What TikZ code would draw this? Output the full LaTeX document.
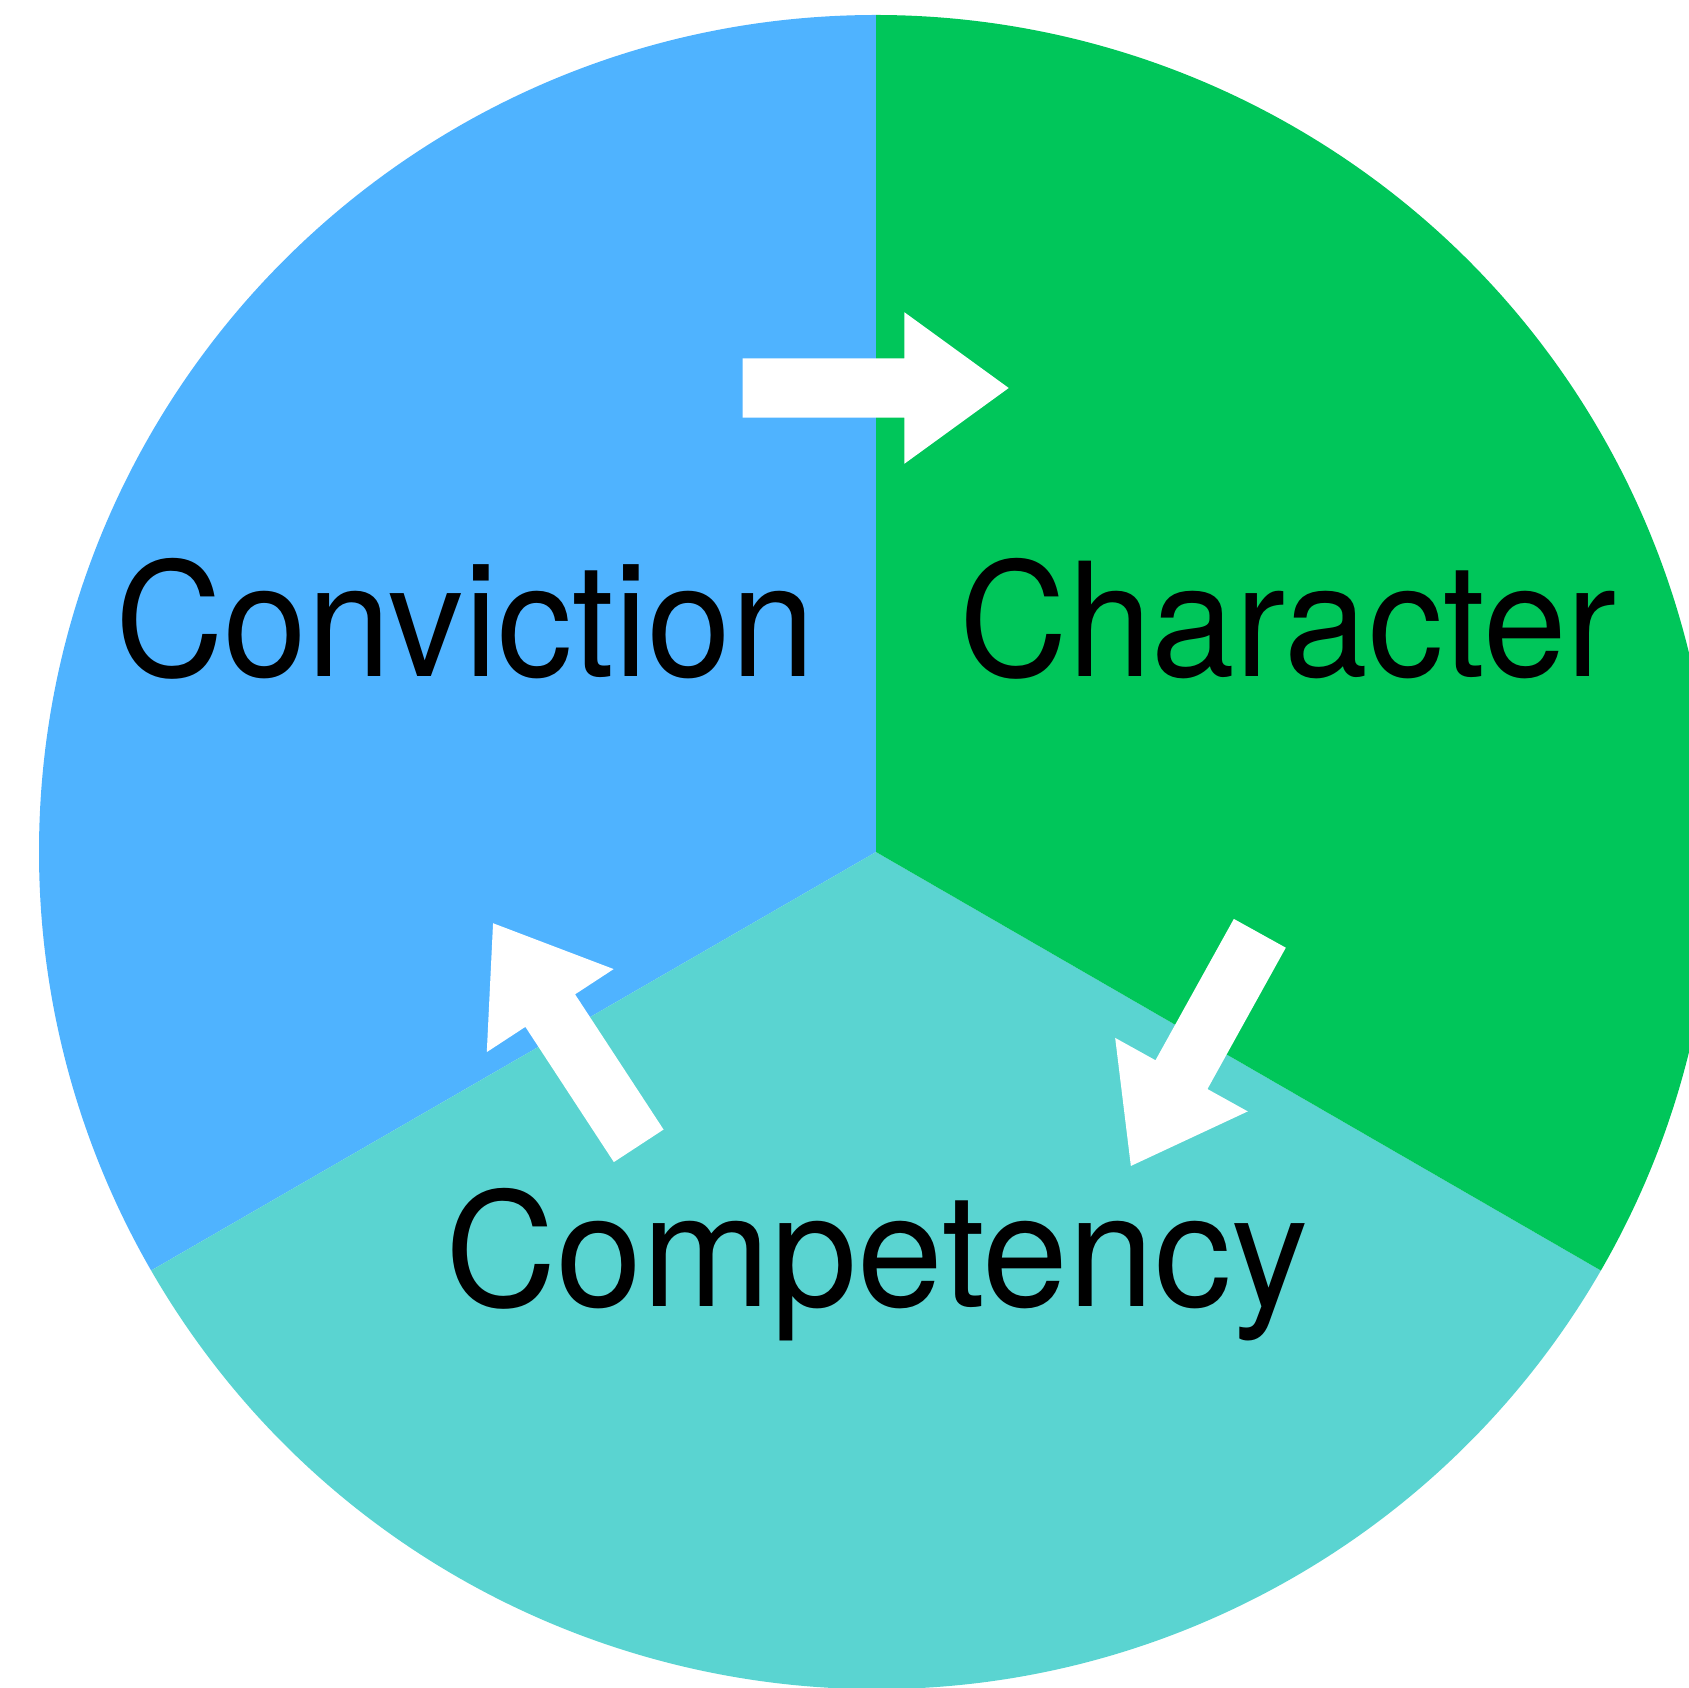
\documentclass[tikz,border=0pt]{standalone}
\usepackage{fontspec}
\setmainfont{TeX Gyre Heros}[FakeStretch=0.95]
\newfontfamily\widefont{TeX Gyre Heros}[FakeStretch=0.975]
\definecolor{convblue}{RGB}{79,179,255}
\definecolor{chargreen}{RGB}{0,198,90}
\definecolor{compteal}{RGB}{90,212,209}

\begin{document}
\begin{tikzpicture}[x=0.01cm,y=0.01cm]
      \tikzset{
        label/.style={inner sep=0pt,anchor=base,font=\fontsize{45}{50}\selectfont},
        turnarrow/.pic={
          \fill[white] (0,-29.7) -- (161.6,-29.7) -- (161.6,-75.8) -- (266,0)
            -- (161.6,75.8) -- (161.6,29.7) -- (0,29.7) -- cycle;
        }
      }

      \clip (0,0) rectangle (1689,1687);
      \coordinate (c) at (876,835);

      % the three sectors
      \fill[convblue] (c) -- ++(90:837) arc[start angle=90,end angle=210,radius=837] -- cycle;
      \fill[compteal] (c) -- ++(210:837) arc[start angle=210,end angle=330,radius=837] -- cycle;
      \fill[chargreen] (c) -- ++(-30:837) arc[start angle=-30,end angle=90,radius=837] -- cycle;

      \node[label] (conv) at (465,1010.3) {Conviction};
      \node[label] (char) at (1288,1010.3) {Character};
      \node[label,font=\fontsize{45}{50}\widefont] (comp) at (877,381) {Competency};

      \pic[rotate=0] at (742.7,1299) {turnarrow};
      \pic[rotate=241] at (1259.8,753.7) {turnarrow};
      \pic[rotate=123.2] at (638.7,541.2) {turnarrow};
    \end{tikzpicture}
\end{document}
